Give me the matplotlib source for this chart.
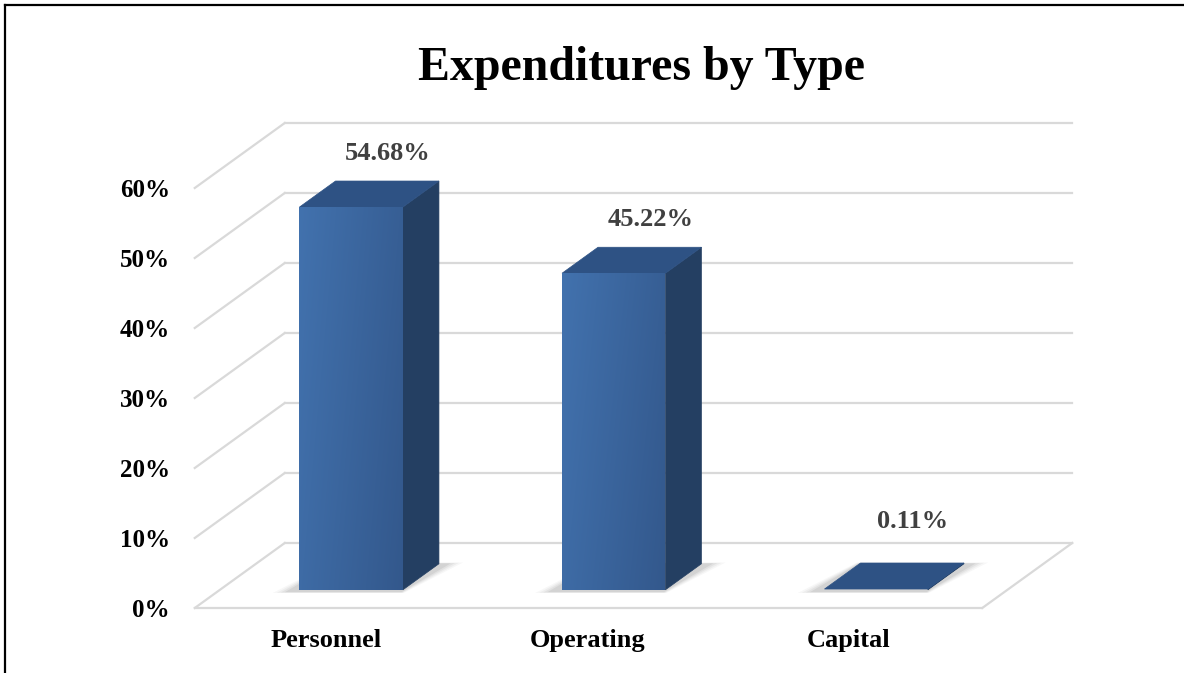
import numpy as np
import matplotlib.pyplot as plt
from matplotlib.patches import Polygon
from matplotlib.lines import Line2D

# === Data ===
categories = ["Personnel", "Operating", "Capital"]
shares = [54.68, 45.22, 0.11]
tick_values = [0, 10, 20, 30, 40, 50, 60]
title = "Expenditures by Type"

# === Oblique "3D" projection in data units ===
DX, DY = 0.343, 9.29          # shift of one unit of depth
X0, X1 = -0.5, 2.5            # floor extent along categories
HALF_W = 0.197                # half bar width
Z0, Z1 = 0.28, 0.68           # bar depth range


def proj(x, y, z):
    return (x + z * DX, y + z * DY)


plt.rcParams["font.family"] = ["Liberation Serif", "DejaVu Serif"]
fig = plt.figure(figsize=(11.84, 6.73), dpi=100)
ax = fig.add_axes([0, 0, 1, 1])
ax.set_xlim(-326 / 262.5, (1184 - 326) / 262.5)
ax.set_ylim((608 - 673) / 7, 608 / 7)
ax.axis("off")

grid_c = "#d9d9d9"

# back wall + side wall gridlines
for v in tick_values:
    xs, ys = zip(proj(X0, v, 1), proj(X1, v, 1))
    ax.plot(xs, ys, color=grid_c, lw=1.6, zorder=1)
    xs, ys = zip(proj(X0, v, 0), proj(X0, v, 1))
    ax.plot(xs, ys, color=grid_c, lw=1.6, zorder=1)
# floor edges
for a, b in [((X0, 0, 0), (X1, 0, 0)), ((X1, 0, 0), (X1, 0, 1))]:
    xs, ys = zip(proj(*a), proj(*b))
    ax.plot(xs, ys, color=grid_c, lw=1.6, zorder=1)

# === Bars ===
gx = np.linspace(0, 1, 256)[None, :]
gy = np.linspace(0, 1, 64)[:, None]
g = np.clip(0.75 * gx + 0.25 * gy, 0, 1)[..., None]
light = np.array([0x42, 0x72, 0xAE]) / 255
dark = np.array([0x33, 0x58, 0x8C]) / 255
grad_img = light * (1 - g) + dark * g

for i, v in enumerate(shares):
    xl, xr = i - HALF_W, i + HALF_W

    # soft shadow on the floor
    for k, a in enumerate([0.06, 0.08, 0.1, 0.14]):
        pad = 0.065 - k * 0.014
        shadow = [proj(xl - pad - 0.02, 0, Z0 - 0.03 - pad * 0.3),
                  proj(xr + pad * 0.3, 0, Z0 - 0.03 - pad * 0.3),
                  proj(xr + pad + 0.02, 0, Z1 + pad * 0.3),
                  proj(xl - pad * 0.3, 0, Z1 + pad * 0.3)]
        ax.add_patch(Polygon(shadow, closed=True, facecolor="#7f7f7f", edgecolor="none",
                             alpha=a, zorder=2))

    side = [proj(xr, 0, Z0), proj(xr, 0, Z1), proj(xr, v, Z1), proj(xr, v, Z0)]
    ax.add_patch(Polygon(side, closed=True, facecolor="#243f62", edgecolor="#243f62",
                         lw=0.5, zorder=3))
    lid = [proj(xl, v, Z0), proj(xr, v, Z0), proj(xr, v, Z1), proj(xl, v, Z1)]
    ax.add_patch(Polygon(lid, closed=True, facecolor="#2e5284", edgecolor="#2e5284",
                         lw=0.5, zorder=4))
    front = [proj(xl, 0, Z0), proj(xr, 0, Z0), proj(xr, v, Z0), proj(xl, v, Z0)]
    fp = Polygon(front, closed=True, facecolor="none", edgecolor="none", zorder=5)
    ax.add_patch(fp)
    if v > 1:
        fx0, fy0 = proj(xl, 0, Z0)
        fx1, fy1 = proj(xr, v, Z0)
        im = ax.imshow(grad_img, extent=[fx0, fx1, fy0, fy1], origin="upper",
                       aspect="auto", zorder=5, interpolation="bilinear")
        im.set_clip_path(fp)

    # data label
    lx, ly = proj(i + 0.236 - 0.68 * DX, max(v, 2.0) + 4.0, 0.68)
    ax.text(lx, ly, f"{v:.2f}%", ha="center", va="center", fontsize=19,
            fontweight="bold", color="#404040", zorder=6)

    # category label
    ax.text(i - 0.005 * i, -4.71, categories[i], ha="center", va="center",
            fontsize=19, fontweight="bold", color="black")

# y tick labels
for v in tick_values:
    ax.text(X0 - 0.095, v - 0.3, f"{v}%", ha="right", va="center", fontsize=18,
            fontweight="bold", color="black")

# title
fig.text(641 / 1184, 1 - 80 / 673, title, ha="center", va="baseline", fontsize=34.5,
         fontweight="bold", color="black")

# frame: left and top edges only
fig.add_artist(Line2D([5 / 1184, 5 / 1184], [0, 1 - 5 / 673], color="black", lw=1.6))
fig.add_artist(Line2D([5 / 1184, 1], [1 - 5 / 673, 1 - 5 / 673], color="black", lw=1.6))

fig.savefig("out.png", dpi=100)
